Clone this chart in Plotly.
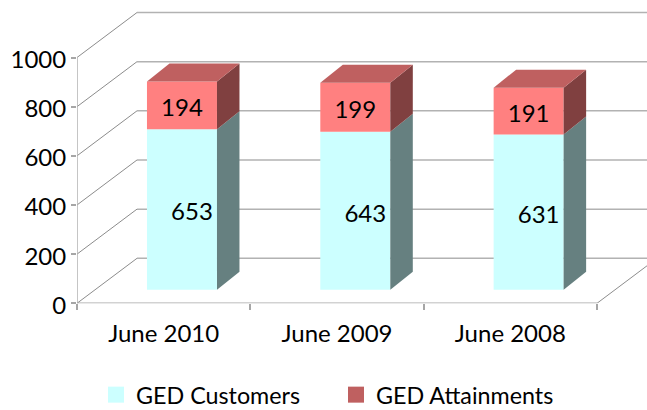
import plotly.graph_objects as go

categories = ["June 2010", "June 2009", "June 2008"]
customers = [653, 643, 631]
attainments = [194, 199, 191]
y_ticks = [0, 200, 400, 600, 800, 1000]

C_FRONT, C_SIDE = "#ccffff", "#668080"
A_FRONT, A_SIDE, A_TOP = "#ff8080", "#804040", "#bf6060"
FONT = "Lato"
FS = 24
LEG_FS = 23.3

W, H = 647, 440          # page is cut to the 410 px window; the extra room keeps the legend from squeezing the plot
L, Y0 = 77, 303.3
PX_X = 173.33            # pixels per category
PX_Y = 0.2458            # pixels per value unit
x_top = (W - L) / PX_X
y_top = Y0 / PX_Y

wall_dx, wall_dy = 60 / PX_X, 45 / PX_Y
bar_dx, bar_dy = 22.5 / PX_X, 18 / PX_Y
bar_shift = 18.3 / PX_X
bar_w = 70 / PX_X
base = 13.6 / PX_Y
label_shift = 10 / PX_X
label_drop = 5 / PX_Y

xs = [i + 0.5 + bar_shift for i in range(len(categories))]

shapes = []
def line(x0, y0, x1, y1, color, width):
    shapes.append(dict(type="line", layer="below", xref="x", yref="y", x0=x0, y0=y0, x1=x1, y1=y1,
                       line=dict(color=color, width=width)))

for v in y_ticks:
    line(0, v, wall_dx, v + wall_dy, "#8c8c8c", 1)
    line(wall_dx, v + wall_dy, x_top, v + wall_dy, "#b2b2b2", 1.5)
line(3, 0, 3 + wall_dx, wall_dy, "#8c8c8c", 1)
line(0, 0, 0, y_ticks[-1], "#b2b2b2", 1.5)
line(0, 0, 3, 0, "#a6a6a6", 1.5)

fig = go.Figure()


def poly(px, py, color):
    fig.add_trace(go.Scatter(x=px + px[:1], y=py + py[:1], mode="lines", fill="toself", fillcolor=color,
                             line=dict(width=0, color=color), showlegend=False, hoverinfo="skip"))


fig.add_trace(go.Bar(x=xs, y=customers, base=[base] * 3, width=bar_w, marker=dict(color=C_FRONT, line_width=0),
                     showlegend=False, hoverinfo="skip"))
fig.add_trace(go.Bar(x=xs, y=attainments, base=[base + c for c in customers], width=bar_w,
                     marker=dict(color=A_FRONT, line_width=0), showlegend=False, hoverinfo="skip"))
fig.update_layout(barmode="overlay")

for x, c, a in zip(xs, customers, attainments):
    r = x + bar_w / 2
    l = x - bar_w / 2
    m = base + c
    t = m + a
    poly([r, r + bar_dx, r + bar_dx, r], [base, base + bar_dy, m + bar_dy, m], C_SIDE)
    poly([r, r + bar_dx, r + bar_dx, r], [m, m + bar_dy, t + bar_dy, t], A_SIDE)
    poly([l, l + bar_dx, r + bar_dx, r], [t, t + bar_dy, t + bar_dy, t], A_TOP)

fig.add_trace(go.Scatter(x=[x + label_shift for x in xs], y=[base + c / 2 - label_drop for c in customers],
                         text=[str(c) for c in customers], mode="text", textposition="middle center",
                         textfont=dict(family=FONT, size=FS, color="black"), showlegend=False, hoverinfo="skip"))
fig.add_trace(go.Scatter(x=xs, y=[base + c + a / 2 - label_drop for c, a in zip(customers, attainments)],
                         text=[str(a) for a in attainments], mode="text", textposition="middle center",
                         textfont=dict(family=FONT, size=FS, color="black"), showlegend=False, hoverinfo="skip"))

fig.add_trace(go.Scatter(x=[None], y=[None], mode="markers", name="GED Customers",
                         marker=dict(symbol="square", size=16, color=C_FRONT)))
fig.add_trace(go.Scatter(x=[None], y=[None], mode="markers", name="GED Attainments",
                         marker=dict(symbol="square", size=16, color=A_TOP)))

fig.update_layout(
    width=W, height=H, margin=dict(l=0, r=0, t=0, b=0), paper_bgcolor="white", plot_bgcolor="white",
    font=dict(family=FONT, size=FS, color="black"),
    shapes=shapes,
    xaxis=dict(domain=[L / W, 1], range=[0, x_top], tickmode="array", tickvals=[i + 0.5 for i in range(3)],
               ticktext=categories, automargin=False, ticklabelstandoff=14,
               ticks="", showgrid=False, zeroline=False, showline=False,
               minor=dict(tickmode="array", tickvals=[0, 1, 2, 3], ticks="outside", ticklen=6,
                          tickcolor="#a6a6a6", tickwidth=1.5, showgrid=False)),
    yaxis=dict(domain=[(H - Y0) / H, 1], range=[0, y_top], tickmode="array", tickvals=y_ticks, ticks="outside", ticklen=5,
               ticklabelshift=2, automargin=False, tickcolor="#a6a6a6", tickwidth=1.5, showgrid=False,
               zeroline=False, showline=False),
    legend=dict(orientation="h", x=(96 - 0) / W, xanchor="left", y=(H - 373) / H, yanchor="top",
                entrywidth=195, entrywidthmode="pixels", bgcolor="rgba(0,0,0,0)",
                font=dict(family=FONT, size=LEG_FS, color="black")),
)
fig.write_html("out.html", config=dict(displayModeBar=False),
               post_script="document.documentElement.style.overflow='hidden';document.body.style.margin='0';document.body.style.overflow='hidden';")
